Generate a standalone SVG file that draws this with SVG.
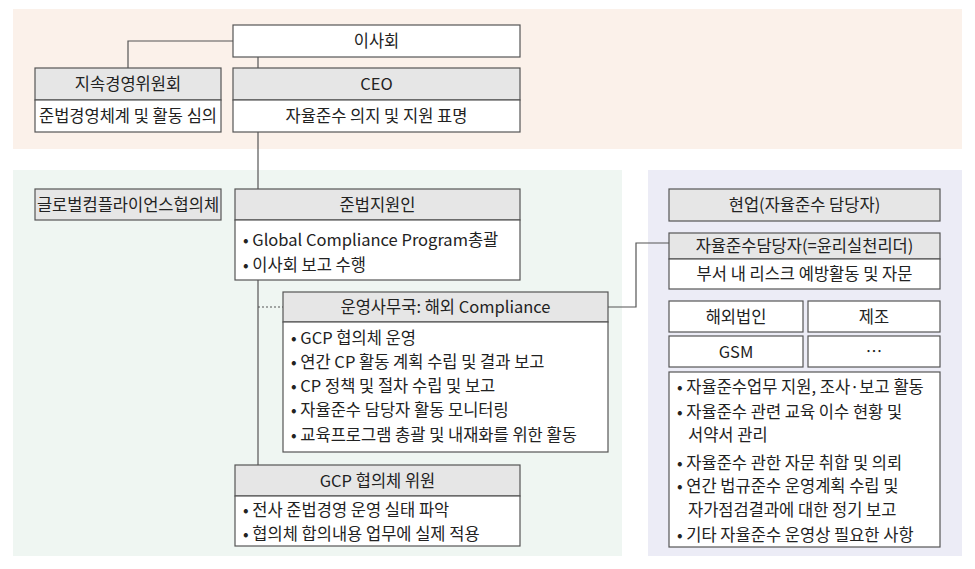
<svg xmlns="http://www.w3.org/2000/svg" width="975" height="569" viewBox="0 0 975 569">
<style>
text{font-family:"Noto Sans CJK KR","Noto Sans",sans-serif;font-size:16.5px;fill:#222}
.c{text-anchor:middle}
.box{fill:#fff;stroke:#555;stroke-width:1.2}
.hd{fill:#e6e6e6;stroke:#555;stroke-width:1.2}
.ln{fill:none;stroke:#555;stroke-width:1.2}
</style>
<rect x="13" y="9" width="949" height="140" fill="#fbf1ea"/>
<rect x="13" y="170" width="609" height="386" fill="#eff6f2"/>
<rect x="648" y="170" width="314" height="386" fill="#ececf6"/>
<g id="connectors">
<path class="ln" d="M233 41H128V68"/>
<path class="ln" d="M258 57V68"/>
<path class="ln" d="M258 132V189"/>
<path class="ln" d="M258 280V465"/>
<path class="ln" d="M258 307H283" stroke-dasharray="2 2"/>
<path class="ln" d="M608 307H636V243H669"/>
</g>
<g id="board">
<rect class="box" x="233" y="25" width="287" height="32"/>
<text class="c" x="376.5" y="47">이사회</text>
</g>
<g id="sustain">
<rect class="hd" x="35" y="68" width="186" height="32"/>
<rect class="box" x="35" y="100" width="186" height="32"/>
<text class="c" x="128" y="90">지속경영위원회</text>
<text class="c" x="128" y="122">준법경영체계 및 활동 심의</text>
</g>
<g id="ceo">
<rect class="hd" x="233" y="68" width="287" height="32"/>
<rect class="box" x="233" y="100" width="287" height="32"/>
<text class="c" x="376.5" y="90">CEO</text>
<text class="c" x="376.5" y="122">자율준수 의지 및 지원 표명</text>
</g>
<g id="gcp-council">
<rect class="hd" x="35" y="189" width="186" height="31"/>
<text class="c" x="128" y="211">글로벌컴플라이언스협의체</text>
</g>
<g id="officer">
<rect class="hd" x="235" y="189" width="285" height="31"/>
<rect class="box" x="235" y="220" width="285" height="60"/>
<text class="c" x="377.5" y="211">준법지원인</text>
<text x="243" y="246">• Global Compliance Program총괄</text>
<text x="243" y="271">• 이사회 보고 수행</text>
</g>
<g id="secretariat">
<rect class="hd" x="283" y="292" width="325" height="30"/>
<rect class="box" x="283" y="322" width="325" height="130"/>
<text class="c" x="445.5" y="313">운영사무국: 해외 Compliance</text>
<text x="291" y="344">• GCP 협의체 운영</text>
<text x="291" y="368">• 연간 CP 활동 계획 수립 및 결과 보고</text>
<text x="291" y="392">• CP 정책 및 절차 수립 및 보고</text>
<text x="291" y="416">• 자율준수 담당자 활동 모니터링</text>
<text x="291" y="441">• 교육프로그램 총괄 및 내재화를 위한 활동</text>
</g>
<g id="gcp-member">
<rect class="hd" x="235" y="465" width="285" height="31"/>
<rect class="box" x="235" y="496" width="285" height="50"/>
<text class="c" x="377.5" y="487">GCP 협의체 위원</text>
<text x="243" y="516">• 전사 준법경영 운영 실태 파악</text>
<text x="243" y="540">• 협의체 합의내용 업무에 실제 적용</text>
</g>
<g id="field">
<rect class="hd" x="669" y="189" width="271" height="32"/>
<text class="c" x="804.5" y="211">현업(자율준수 담당자)</text>
</g>
<g id="leader">
<rect class="hd" x="669" y="233" width="271" height="26"/>
<rect class="box" x="669" y="259" width="271" height="30"/>
<text class="c" x="804.5" y="252">자율준수담당자(=윤리실천리더)</text>
<text class="c" x="804.5" y="280">부서 내 리스크 예방활동 및 자문</text>
</g>
<g id="overseas">
<rect class="box" x="669" y="301" width="134" height="31"/>
<text class="c" x="736" y="323">해외법인</text>
</g>
<g id="manufacture">
<rect class="box" x="808" y="301" width="132" height="31"/>
<text class="c" x="874" y="323">제조</text>
</g>
<g id="gsm">
<rect class="box" x="669" y="336" width="134" height="31"/>
<text class="c" x="736" y="358">GSM</text>
</g>
<g id="etc">
<rect class="box" x="808" y="336" width="132" height="31"/>
<text class="c" x="874" y="358">…</text>
</g>
<g id="duties">
<rect class="box" x="669" y="372" width="271" height="175"/>
<text x="677" y="393">• 자율준수업무 지원, 조사·보고 활동</text>
<text x="677" y="418">• 자율준수 관련 교육 이수 현황 및</text>
<text x="688" y="441">서약서 관리</text>
<text x="677" y="469">• 자율준수 관한 자문 취합 및 의뢰</text>
<text x="677" y="492">• 연간 법규준수 운영계획 수립 및</text>
<text x="688" y="516">자가점검결과에 대한 정기 보고</text>
<text x="677" y="541">• 기타 자율준수 운영상 필요한 사항</text>
</g>
</svg>
